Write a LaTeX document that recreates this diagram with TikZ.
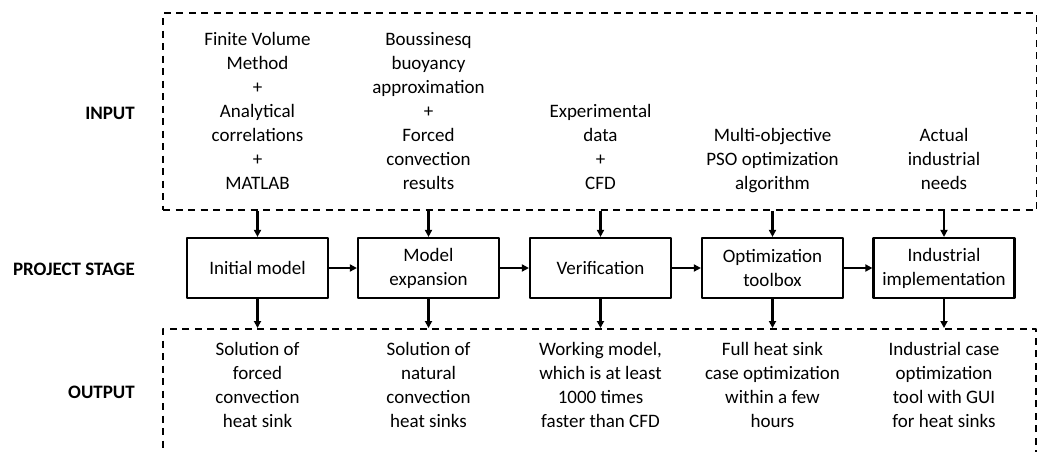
\documentclass[tikz,border=0pt]{standalone}
\usepackage{fontspec}
\setmainfont{Carlito}
\usetikzlibrary{arrows.meta}

\begin{document}
\begin{tikzpicture}[
  x=1pt,
  y=-1pt,
  line join=round,
  font=\fontsize{19}{24}\selectfont,
  >={Triangle[length=7pt,width=7pt]},
  stage/.style={draw, line width=2.2pt, minimum width=141pt, minimum height=60pt,
                align=center, inner sep=2pt},
  dashbox/.style={draw, line width=2.2pt, dash pattern=on 7pt off 5.5pt, inner sep=0pt},
  intext/.style={align=center, anchor=south, inner sep=0pt, execute at end node=\strut},
  outtext/.style={align=center, anchor=north, inner sep=0pt, execute at begin node=\strut},
  rowlabel/.style={anchor=east, inner sep=0pt, font=\fontsize{19}{24}\selectfont\bfseries},
  link/.style={->, line width=2.2pt}
]

\useasboundingbox (0,0) rectangle (1037,451);

% ---------- parameters ----------
\def\ystage{268}     % centre line of the stage boxes
\def\yin{197}        % bottom of the input texts
\def\yout{342}       % top of the output texts

% ---------- row labels ----------
\node[rowlabel] (lin)  at (135,113) {INPUT};
\node[rowlabel] (lst)  at (135,269) {PROJECT STAGE};
\node[rowlabel] (lout) at (135,392) {OUTPUT};

% ---------- dashed frames ----------
\node[dashbox, anchor=north west, minimum width=874pt, minimum height=197pt] (inbox)  at (162,12)  {};
\node[dashbox, anchor=north west, minimum width=873pt, minimum height=130pt] (outbox) at (162,328) {};

% ---------- stages ----------
\node[stage] (s1) at (257.5,\ystage) {Initial model};
\node[stage] (s2) at (428.5,\ystage) {Model\\expansion};
\node[stage] (s3) at (600.5,\ystage) {Verification};
\node[stage] (s4) at (772.5,\ystage) {Optimization\\toolbox};
\node[stage] (s5) at (944,\ystage)   {Industrial\\implementation};

% ---------- inputs ----------
\node[intext] (in1) at (257.5,\yin) {Finite Volume\\Method\\+\\Analytical\\correlations\\+\\MATLAB};
\node[intext] (in2) at (428.5,\yin) {Boussinesq\\buoyancy\\approximation\\+\\Forced\\convection\\results};
\node[intext] (in3) at (600.5,\yin) {Experimental\\data\\+\\CFD};
\node[intext] (in4) at (772.5,\yin) {Multi-objective\\PSO optimization\\algorithm};
\node[intext] (in5) at (944,\yin)   {Actual\\industrial\\needs};

% ---------- outputs ----------
\node[outtext] (out1) at (257.5,\yout) {Solution of\\forced\\convection\\heat sink};
\node[outtext] (out2) at (428.5,\yout) {Solution of\\natural\\convection\\heat sinks};
\node[outtext] (out3) at (600.5,\yout) {Working model,\\which is at least\\1000 times\\faster than CFD};
\node[outtext] (out4) at (772.5,\yout) {Full heat sink\\case optimization\\within a few\\hours};
\node[outtext] (out5) at (944,\yout)   {Industrial case\\optimization\\tool with GUI\\for heat sinks};

% ---------- connectors ----------
\foreach \i in {1,...,5}{
  \draw[link] (inbox.south -| s\i) -- (s\i);
  \draw[link] (s\i) -- (outbox.north -| s\i);
}
\foreach \a/\b in {1/2,2/3,3/4,4/5}
  \draw[link] (s\a) -- (s\b);

\end{tikzpicture}
\end{document}
